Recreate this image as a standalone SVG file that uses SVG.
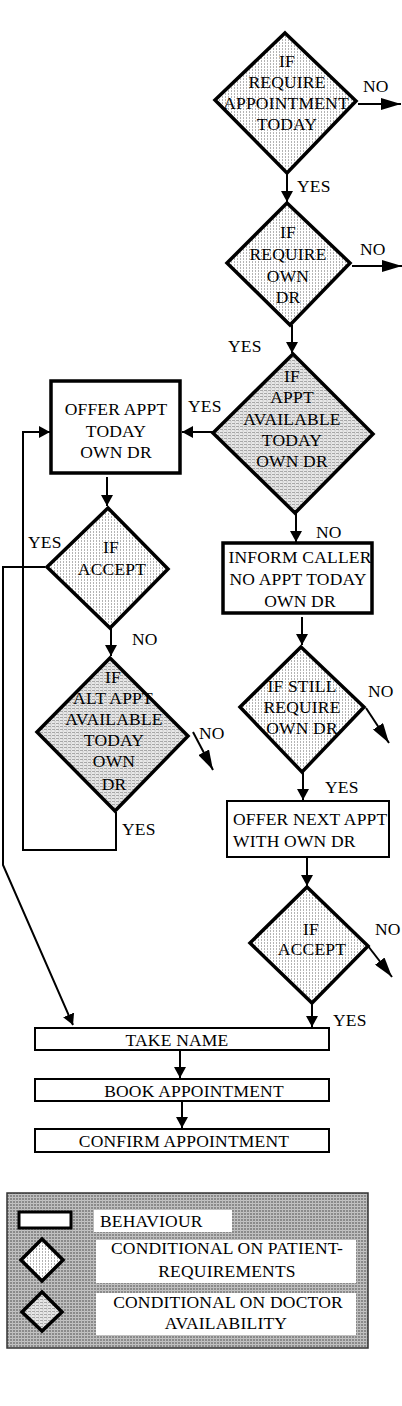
<svg xmlns="http://www.w3.org/2000/svg" width="402" height="1406" viewBox="0 0 402 1406">
<defs>
<pattern id="patPat" width="3" height="3" patternUnits="userSpaceOnUse">
<rect width="3" height="3" fill="#ffffff"/>
<rect x="0" y="0" width="1" height="2" fill="#b4b4b4"/>
</pattern>
<pattern id="docPat" width="4" height="3" patternUnits="userSpaceOnUse">
<rect width="4" height="3" fill="#e8e8e8"/>
<rect x="0" y="0" width="3" height="1" fill="#a8a8a8"/>
<rect x="2" y="1.5" width="2" height="0.8" fill="#c4c4c4"/>
</pattern>
<pattern id="legPat" width="3" height="3" patternUnits="userSpaceOnUse">
<rect width="3" height="3" fill="#8a8a8a"/>
<rect x="0" y="0" width="3" height="1" fill="#c4c4c4"/>
<rect x="0" y="0" width="1" height="3" fill="#bcbcbc"/>
</pattern>
<marker id="ah" markerUnits="userSpaceOnUse" markerWidth="11" markerHeight="12" refX="11" refY="6" orient="auto">
<path d="M0,0 L11,6 L0,12 z" fill="#000"/>
</marker>
<marker id="ahL" markerUnits="userSpaceOnUse" markerWidth="20" markerHeight="12" refX="20" refY="6" orient="auto">
<path d="M0,0 L20,6 L0,12 z" fill="#000"/>
</marker>
</defs>
<style>
text{font-family:"Liberation Serif","Times New Roman",serif;font-size:17.5px;fill:#000;letter-spacing:0.2px}
.c{text-anchor:middle}
.dia{stroke:#000;stroke-width:3.5;stroke-linejoin:miter}
.pat{fill:url(#patPat)}
.doc{fill:url(#docPat)}
.boxT{fill:#fff;stroke:#000;stroke-width:3.5}
.box{fill:#fff;stroke:#000;stroke-width:2}
.con{fill:none;stroke:#000;stroke-width:2}
.arr{marker-end:url(#ah)}
.arrL{marker-end:url(#ahL)}
.lbl{fill:#fff}
</style>

<g id="d1">
<polygon class="dia pat" points="285,33 356,101 287,173 215,100"/>
<text class="c" x="287" y="67">IF</text>
<text class="c" x="287" y="88">REQUIRE</text>
<text class="c" x="286" y="109">APPOINTMENT</text>
<text class="c" x="287" y="130">TODAY</text>
</g>

<g id="d2">
<polygon class="dia pat" points="287,203 350,263 290,325 227,263"/>
<text class="c" x="288" y="238">IF</text>
<text class="c" x="288" y="260">REQUIRE</text>
<text class="c" x="288" y="282">OWN</text>
<text class="c" x="288" y="303">DR</text>
</g>

<g id="d3">
<polygon class="dia doc" points="293,354 373,434 295,513 213,433"/>
<text class="c" x="292" y="382">IF</text>
<text class="c" x="292" y="403">APPT</text>
<text class="c" x="292" y="425">AVAILABLE</text>
<text class="c" x="292" y="446">TODAY</text>
<text class="c" x="292" y="467">OWN DR</text>
</g>

<g id="offerToday">
<rect class="boxT" x="51" y="381" width="129" height="92"/>
<text class="c" x="116" y="415">OFFER APPT</text>
<text class="c" x="116" y="437">TODAY</text>
<text class="c" x="116" y="458">OWN DR</text>
</g>

<g id="accept1">
<polygon class="dia pat" points="108,508 168,569 110,628 47,567"/>
<text class="c" x="111" y="553">IF</text>
<text class="c" x="112" y="575">ACCEPT</text>
</g>

<g id="altAppt">
<polygon class="dia doc" points="110,658 188,736 115,811 37,732"/>
<text class="c" x="113" y="683">IF</text>
<text class="c" x="113" y="704">ALT APPT</text>
<text class="c" x="114" y="725">AVAILABLE</text>
<text class="c" x="114" y="746">TODAY</text>
<text class="c" x="114" y="767">OWN</text>
<text class="c" x="114" y="790">DR</text>
</g>

<g id="inform">
<rect class="boxT" x="223" y="543" width="149" height="70"/>
<text class="c" x="300" y="563">INFORM CALLER</text>
<text class="c" x="298" y="585">NO APPT  TODAY</text>
<text class="c" x="300" y="607">OWN DR</text>
</g>

<g id="still">
<polygon class="dia pat" points="301,647 364,707 302,772 240,707"/>
<text class="c" x="302" y="692">IF STILL</text>
<text class="c" x="302" y="713">REQUIRE</text>
<text class="c" x="302" y="734">OWN DR</text>
</g>

<g id="offerNext">
<rect class="box" x="227" y="801" width="162" height="56"/>
<text x="233" y="825">OFFER NEXT APPT</text>
<text x="233" y="847">WITH OWN DR</text>
</g>

<g id="accept2">
<polygon class="dia pat" points="307,887 368,946 312,1003 250,943"/>
<text class="c" x="311" y="935">IF</text>
<text class="c" x="312" y="955">ACCEPT</text>
</g>

<g id="takeName">
<rect class="box" x="35" y="1028" width="294" height="22"/>
<text class="c" x="177" y="1046">TAKE NAME</text>
</g>

<g id="book">
<rect class="box" x="35" y="1079" width="294" height="22"/>
<text class="c" x="194" y="1097">BOOK APPOINTMENT</text>
</g>

<g id="confirm">
<rect class="box" x="35" y="1129" width="294" height="23"/>
<text class="c" x="184" y="1147">CONFIRM APPOINTMENT</text>
</g>

<g id="connectors">
<line class="con arrL" x1="358" y1="104" x2="401" y2="104"/>
<line class="con arr" x1="287" y1="173" x2="287" y2="202"/>
<line class="con arrL" x1="352" y1="266" x2="402" y2="266"/>
<line class="con arr" x1="292" y1="325" x2="292" y2="353"/>
<line class="con arr" x1="213" y1="432" x2="182" y2="432"/>
<line class="con arr" x1="296" y1="513" x2="296" y2="542"/>
<line class="con arr" x1="107" y1="477" x2="107" y2="506"/>
<polyline class="con arr" points="45,567 3,567 3,865 73,1025"/>
<line class="con arr" x1="111" y1="628" x2="111" y2="656"/>
<line class="con arrL" x1="193" y1="732" x2="213" y2="770"/>
<polyline class="con arr" points="116,812 116,850 23,850 23,432 50,432"/>
<line class="con arr" x1="302" y1="617" x2="302" y2="645"/>
<line class="con arrL" x1="366" y1="708" x2="389" y2="743"/>
<line class="con arr" x1="303" y1="772" x2="303" y2="800"/>
<line class="con arr" x1="307" y1="858" x2="307" y2="886"/>
<line class="con arrL" x1="368" y1="946" x2="392" y2="977"/>
<line class="con arr" x1="312" y1="1003" x2="312" y2="1027"/>
<line class="con arr" x1="180" y1="1051" x2="180" y2="1078"/>
<line class="con arr" x1="182" y1="1102" x2="182" y2="1128"/>
</g>

<g id="edgeLabels">
<text x="363" y="92">NO</text>
<text x="297" y="192">YES</text>
<text x="360" y="255">NO</text>
<text x="228" y="352">YES</text>
<text x="188" y="412">YES</text>
<text x="316" y="538">NO</text>
<text x="28" y="548">YES</text>
<text x="132" y="645">NO</text>
<text x="199" y="739">NO</text>
<text x="122" y="835">YES</text>
<text x="368" y="697">NO</text>
<text x="325" y="793">YES</text>
<text x="375" y="935">NO</text>
<text x="333" y="1026">YES</text>
</g>

<g id="legend">
<rect x="7" y="1193" width="361" height="155" fill="url(#legPat)" stroke="#333" stroke-width="1.5"/>
<rect x="19" y="1212" width="52" height="16" fill="#fff" stroke="#000" stroke-width="3"/>
<rect class="lbl" x="94" y="1210" width="138" height="22"/>
<text x="100" y="1227">BEHAVIOUR</text>
<polygon class="dia pat" points="42,1239 63,1260 42,1281 21,1260"/>
<rect class="lbl" x="96" y="1240" width="260" height="43"/>
<text class="c" x="227" y="1254">CONDITIONAL ON  PATIENT-</text>
<text class="c" x="227" y="1277">REQUIREMENTS</text>
<polygon class="dia doc" points="42,1292 62,1312 42,1331 22,1312"/>
<rect class="lbl" x="96" y="1293" width="260" height="42"/>
<text class="c" x="228" y="1308">CONDITIONAL ON DOCTOR</text>
<text class="c" x="226" y="1329">AVAILABILITY</text>
</g>
</svg>
